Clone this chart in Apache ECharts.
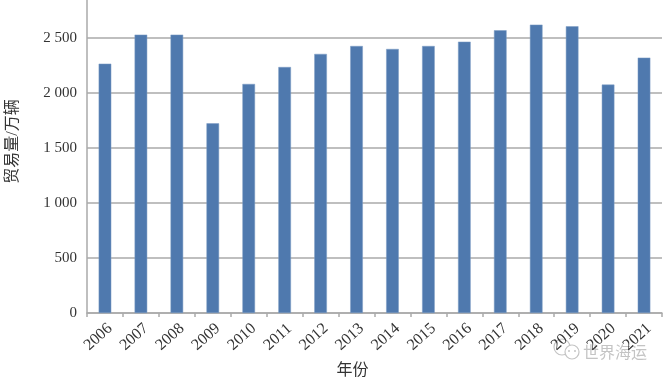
<!DOCTYPE html>
<html><head><meta charset="utf-8">
<style>html,body{margin:0;padding:0;background:#fff}#c{width:670px;height:380px}</style>
<script src="https://cdn.jsdelivr.net/npm/echarts@6/dist/echarts.min.js"></script>
</head><body><div id="c"></div>
<script>
const years=['2006','2007','2008','2009','2010','2011','2012','2013','2014','2015','2016','2017','2018','2019','2020','2021'];
const tradeVolume=[2266,2530,2530,1724,2082,2236,2355,2427,2400,2427,2466,2570,2621,2606,2076,2321];
const yTickLabels={0:'0',500:'500',1000:'1 000',1500:'1 500',2000:'2 000',2500:'2 500'};
const yAxisTitle='贸易量/万辆';
const xAxisTitle='年份';
const watermark='世界海运';
const serif='"Liberation Serif","Noto Sans CJK SC",serif';
const chart=echarts.init(document.getElementById('c'),null,{renderer:'canvas'});
chart.setOption({
  animation:false,
  backgroundColor:'#fff',
  grid:{left:87,right:8,top:0,bottom:67,containLabel:false,outerBoundsMode:'none'},
  xAxis:{type:'category',data:years,
    name:xAxisTitle,nameLocation:'middle',nameGap:50,
    nameTextStyle:{fontFamily:serif,fontSize:16,color:'#333',padding:[0,44,0,0]},
    axisLine:{lineStyle:{color:'#aaa',width:1.5}},
    axisTick:{show:true,alignWithLabel:false,length:4,lineStyle:{color:'#aaa',width:1.5}},
    axisLabel:{interval:0,rotate:42,margin:18,align:'center',verticalAlign:'middle',padding:[0,18,0,0],
      fontFamily:serif,fontSize:16,color:'#333'}
  },
  yAxis:{type:'value',min:0,max:2845,interval:500,
    name:yAxisTitle,nameLocation:'middle',nameGap:66,nameRotate:90,
    nameTextStyle:{fontFamily:serif,fontSize:16,color:'#333',padding:[0,0,0,30]},
    axisLine:{show:true,lineStyle:{color:'#aaa',width:1.5}},
    axisTick:{show:false},
    axisLabel:{margin:10,fontFamily:serif,fontSize:15,color:'#333',showMaxLabel:false,
      formatter:v=>yTickLabels[v]!==undefined?yTickLabels[v]:''},
    splitLine:{show:true,showMaxLine:false,lineStyle:{color:'#aaa',width:1.5}}
  },
  series:[{type:'bar',data:tradeVolume,barWidth:12.6,
    itemStyle:{color:'#4f79ae',borderColor:'#7d9cc4',borderWidth:0.5}}],
  graphic:[
    {type:'circle',shape:{cx:562,cy:347,r:8},style:{fill:'#fff',stroke:'#c4c4c4',lineWidth:1.2}},
    {type:'circle',shape:{cx:572,cy:352,r:7},style:{fill:'#fff',stroke:'#c4c4c4',lineWidth:1.2}},
    {type:'circle',shape:{cx:569,cy:351,r:1},style:{fill:'#c4c4c4'}},
    {type:'circle',shape:{cx:575,cy:351,r:1},style:{fill:'#c4c4c4'}},
    {type:'text',x:583,y:344,style:{text:watermark,fill:'#c4c4c4',fontSize:16,fontFamily:'"Noto Sans CJK SC",sans-serif'}}
  ]
});
</script></body></html>
